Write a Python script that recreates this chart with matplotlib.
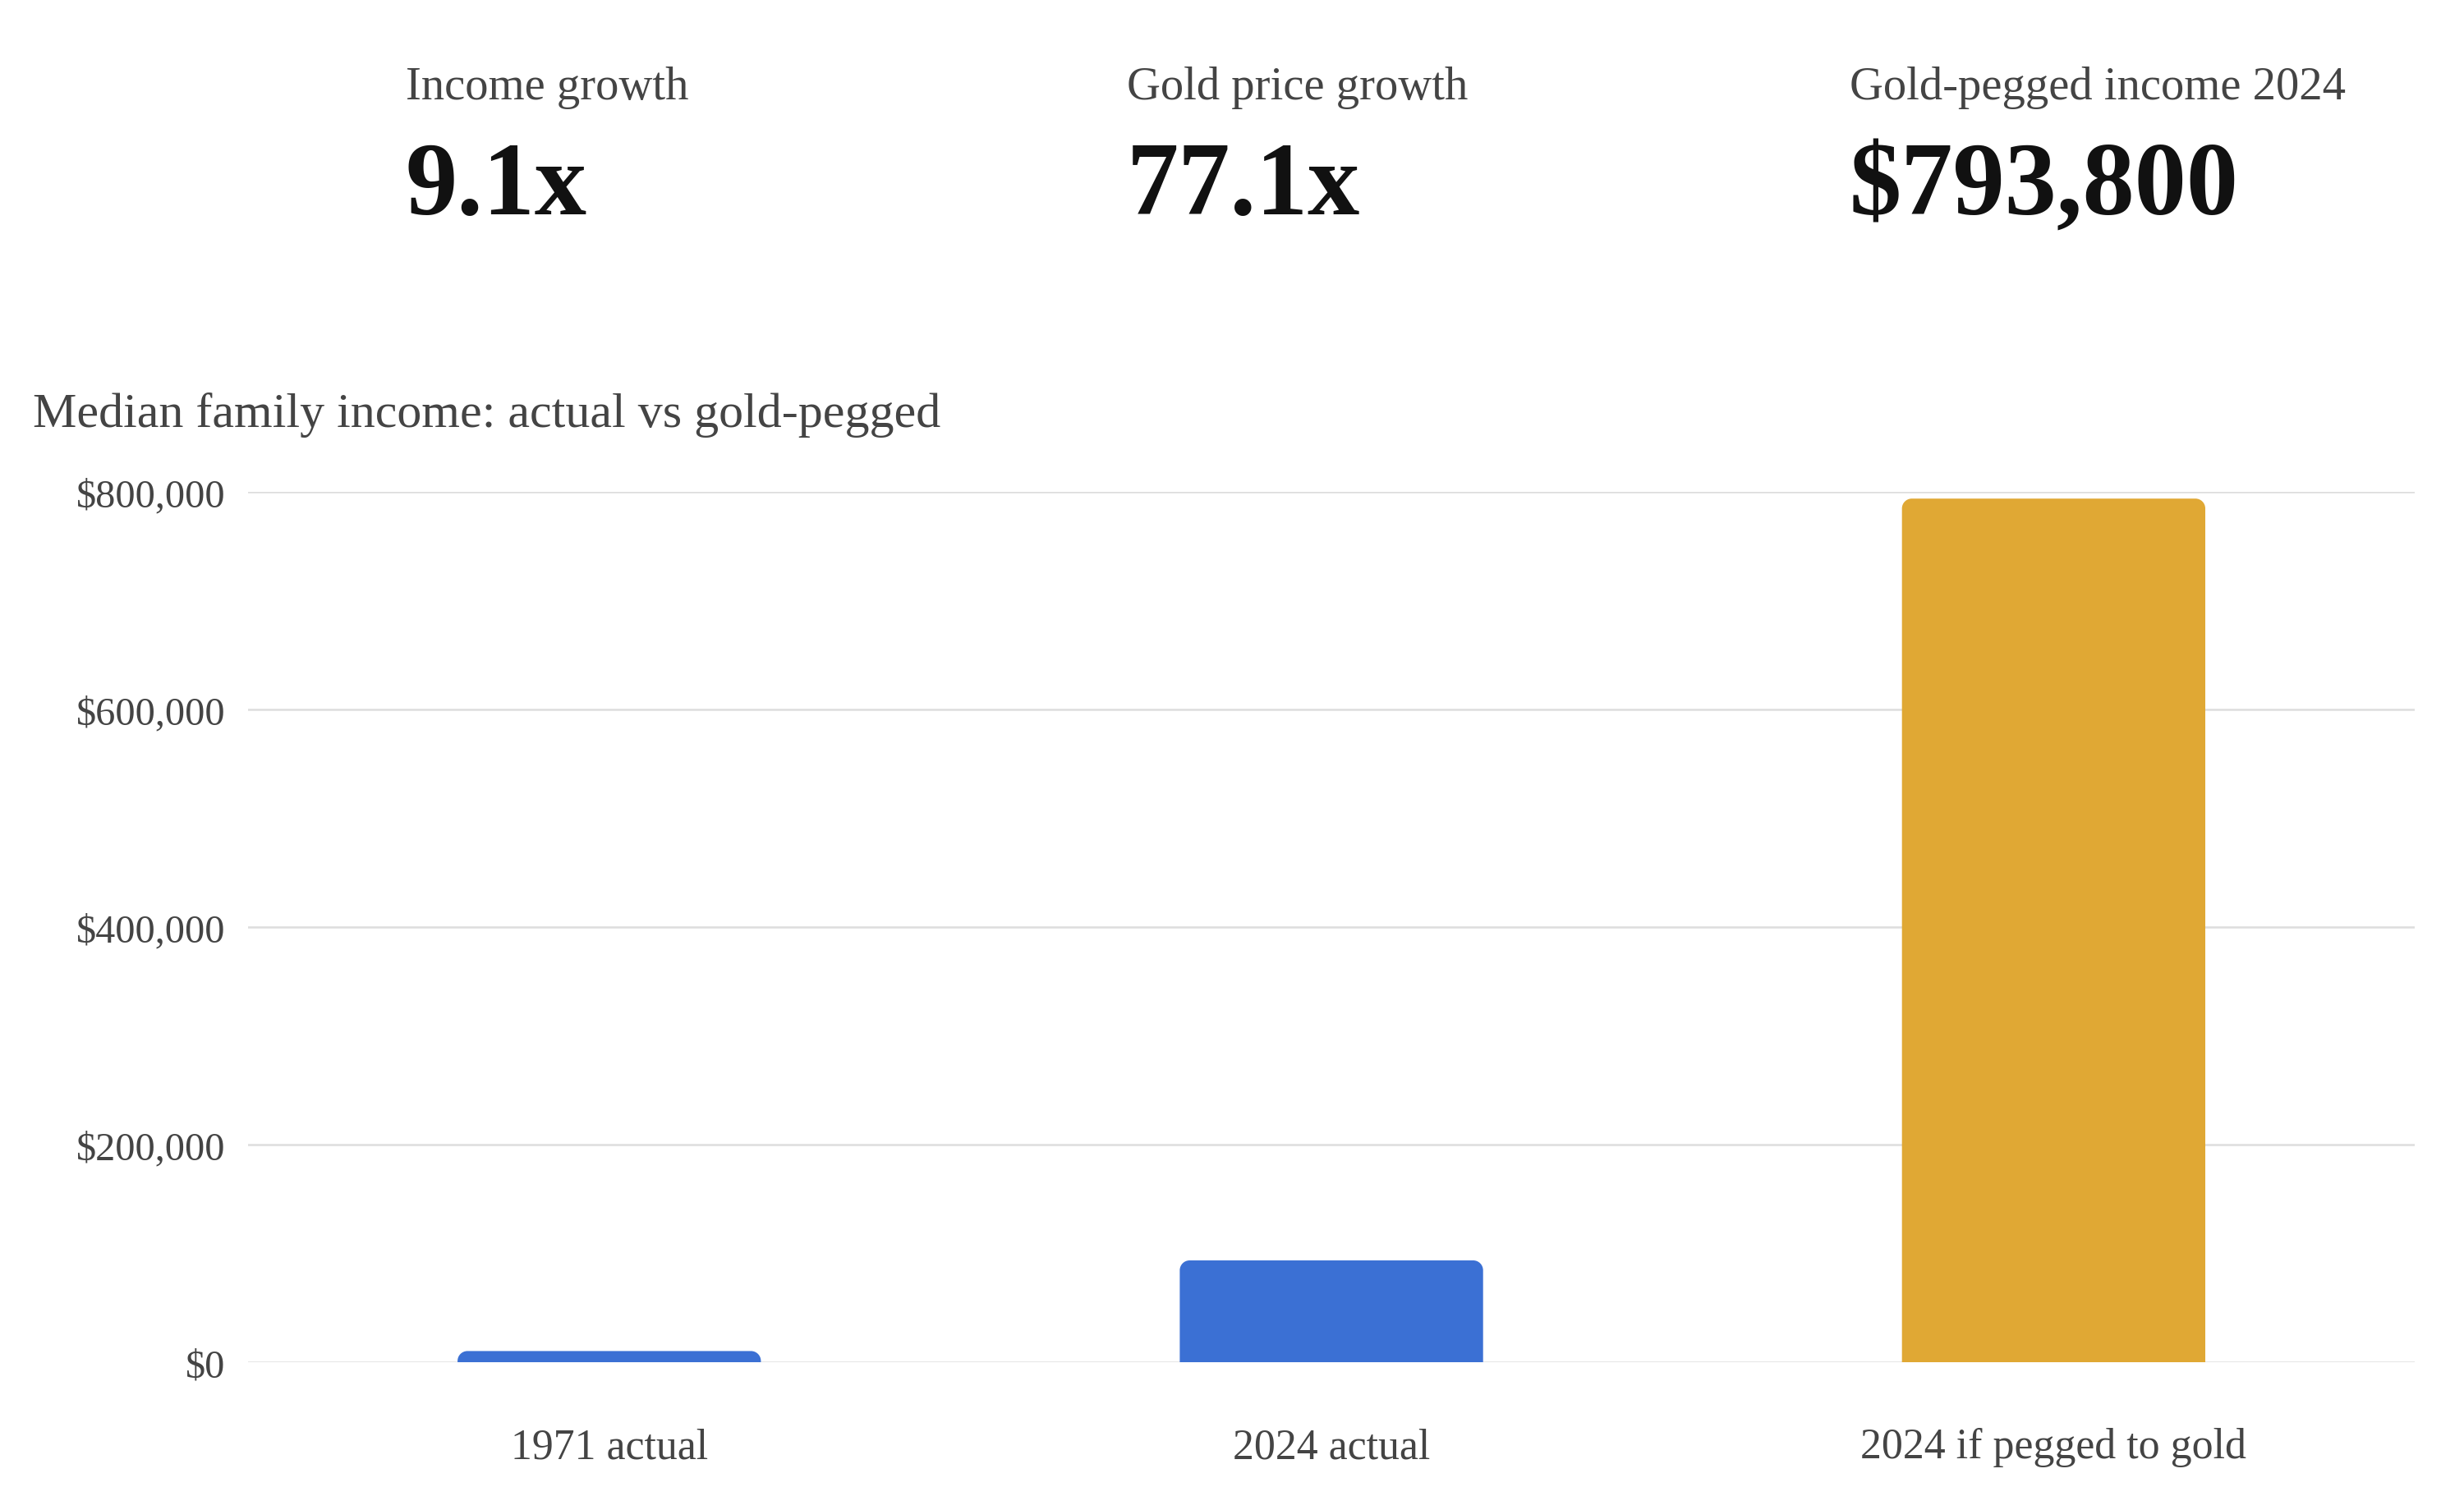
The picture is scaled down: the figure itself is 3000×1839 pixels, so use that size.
import matplotlib
matplotlib.use("Agg")
import matplotlib.pyplot as plt
from matplotlib.path import Path
from matplotlib.patches import PathPatch
from matplotlib.ticker import FuncFormatter

# data
categories = ["1971 actual", "2024 actual", "2024 if pegged to gold"]
incomes = [10290, 93600, 793800]
bar_colors = ["#3b70d4", "#3b70d4", "#e0a834"]

kpi_labels = ["Income growth", "Gold price growth", "Gold-pegged income 2024"]
kpi_values = ["9.1x", "77.1x", "$793,800"]

y_ticks = [0, 200000, 400000, 600000, 800000]

plt.rcParams['font.family'] = ['Liberation Serif', 'DejaVu Serif']

fig = plt.figure(figsize=(15, 9.2), dpi=200)
fig.patch.set_facecolor("white")

# KPI header
kpi_x = [0.1645, 0.4572, 0.7505]
for x, lab, val in zip(kpi_x, kpi_labels, kpi_values):
    fig.text(x, 0.9344, lab, fontsize=20.4, color="#444444", va="baseline", ha="left")
    fig.text(x, 0.8582, val, fontsize=45.5, fontweight="bold", color="#111111",
             va="baseline", ha="left")

fig.text(0.0133, 0.7174, "Median family income: actual vs gold-pegged",
         fontsize=21.6, color="#444444", va="baseline", ha="left")

# axes: left 302px, right 2940px, zero 1660px, top 600px
ax = fig.add_axes([0.1007, 0.0978, 0.8793, 0.5761])
xs = list(range(len(categories)))
bars = ax.bar(xs, incomes, width=0.42, color=bar_colors, zorder=2)

ax.set_xlim(-0.5, len(categories) - 0.5)
ax.set_ylim(0, 800000)
ax.set_yticks(y_ticks)
ax.yaxis.set_major_formatter(FuncFormatter(lambda v, p: f"${v:,.0f}"))
ax.set_xticks(xs)
ax.set_xticklabels(categories)
ax.tick_params(axis="x", length=0, pad=28.5, labelsize=18.7, labelcolor="#444444")
ax.tick_params(axis="y", length=0, pad=10, labelsize=17.4, labelcolor="#444444")
ax.grid(axis="y", color="#dddddd", linewidth=0.9, zorder=0)
ax.set_axisbelow(True)
for s in ax.spines.values():
    s.set_visible(False)

# rounded top corners
fig.canvas.draw()
r_px = 12
inv = ax.transData.inverted()
x0p, y0p = ax.transData.transform((0, 0))
x1p, y1p = inv.transform((x0p + r_px, y0p + r_px))
rx, ry = x1p - 0, y1p - 0
k = 0.5523
for b in bars:
    x0, w, h = b.get_x(), b.get_width(), b.get_height()
    x1 = x0 + w
    r_y = min(ry, h)
    verts = [
        (x0, 0), (x0, h - r_y),
        (x0, h - r_y + k * r_y), (x0 + rx - k * rx, h), (x0 + rx, h),
        (x1 - rx, h),
        (x1 - rx + k * rx, h), (x1, h - r_y + k * r_y), (x1, h - r_y),
        (x1, 0), (x0, 0),
    ]
    codes = [Path.MOVETO, Path.LINETO,
             Path.CURVE4, Path.CURVE4, Path.CURVE4,
             Path.LINETO,
             Path.CURVE4, Path.CURVE4, Path.CURVE4,
             Path.LINETO, Path.CLOSEPOLY]
    patch = PathPatch(Path(verts, codes), facecolor=b.get_facecolor(),
                      edgecolor="none", zorder=2)
    b.set_visible(False)
    ax.add_patch(patch)

fig.savefig("out.png", dpi=200, facecolor="white")
